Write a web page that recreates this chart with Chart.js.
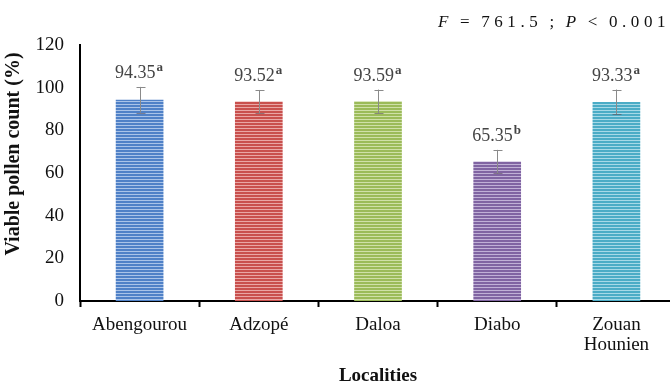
<!DOCTYPE html>
<html>
<head>
<meta charset="utf-8">
<script src="https://cdn.jsdelivr.net/npm/chart.js@4"></script>
<style>
html,body{margin:0;padding:0;background:#fff;overflow:hidden;}
#wrap{width:670px;height:385px;position:relative;overflow:hidden;}
</style>
</head>
<body>
<div id="wrap"><canvas id="c" width="676" height="385"></canvas></div>
<script>
const categories = ["Abengourou", "Adzopé", "Daloa", "Diabo", ["Zouan", "Hounien"]];
const values = [94.35, 93.52, 93.59, 65.35, 93.33];
const errors = [6.0, 5.4, 5.5, 5.5, 5.8];
const letters = ["a", "a", "a", "b", "a"];
const yTicks = [0, 20, 40, 60, 80, 100, 120];
const statText = ["F", " = 761.5 ; ", "P", " < 0.001"];
const yTitle = "Viable pollen count (%)";
const xTitle = "Localities";

const baseColors = ["#4f81c7", "#c9504d", "#9bbb59", "#8064a2", "#4bacc6"];
const stripeColors = ["#a9c3e8", "#e9a6a4", "#cfe0a8", "#c0b0d6", "#a6d9e7"];

function makePattern(base, light) {
  const c = document.createElement('canvas');
  c.width = 4; c.height = 3;
  const x = c.getContext('2d');
  x.fillStyle = base; x.fillRect(0, 0, 4, 3);
  x.fillStyle = light; x.fillRect(0, 2, 4, 1);
  return x.createPattern(c, 'repeat');
}
const patterns = baseColors.map((b, i) => makePattern(b, stripeColors[i]));

const serif = "'Liberation Serif', 'DejaVu Serif', serif";

const extras = {
  id: 'extras',
  afterDatasetsDraw(chart) {
    const ctx = chart.ctx;
    const meta = chart.getDatasetMeta(0);
    const y = chart.scales.y;
    ctx.save();
    meta.data.forEach((bar, i) => {
      const yt = y.getPixelForValue(values[i] + errors[i]);
      const yb = y.getPixelForValue(values[i] - errors[i]);
      const x = Math.round(bar.x) + 0.5;
      ctx.strokeStyle = '#8a8a8a';
      ctx.lineWidth = 1;
      ctx.beginPath();
      ctx.moveTo(x, yt); ctx.lineTo(x, yb);
      ctx.moveTo(x - 4, Math.round(yt) + 0.5); ctx.lineTo(x + 5, Math.round(yt) + 0.5);
      ctx.stroke();
      ctx.strokeStyle = 'rgba(90,80,90,0.6)';
      ctx.beginPath();
      ctx.moveTo(x - 4, Math.round(yb) + 0.5); ctx.lineTo(x + 5, Math.round(yb) + 0.5);
      ctx.stroke();
      const num = values[i].toFixed(2);
      ctx.font = "18px " + serif;
      const w1 = ctx.measureText(num).width;
      ctx.font = "bold 13px " + serif;
      const w2 = ctx.measureText(letters[i]).width;
      const start = bar.x - (w1 + w2) / 2 - 1;
      const base = yt - 9;
      ctx.fillStyle = '#444';
      ctx.textBaseline = 'alphabetic';
      ctx.textAlign = 'left';
      ctx.font = "18px " + serif;
      ctx.fillText(num, start, base);
      ctx.font = "bold 13px " + serif;
      ctx.fillText(letters[i], start + w1 + 1, base - 7);
    });
    // stats text
    ctx.fillStyle = '#111';
    let sx = 438;
    const sy = 27;
    statText.forEach((t, k) => {
      ctx.font = (k % 2 === 0 ? "italic " : "") + "17px " + serif;
      for (const ch of t) {
        ctx.fillText(ch, sx, sy);
        sx += ch === ' ' ? 7 : ctx.measureText(ch).width + 4.6;
      }
    });
    // y title
    ctx.translate(14, 154);
    ctx.rotate(-Math.PI / 2);
    ctx.textAlign = 'center';
    ctx.textBaseline = 'middle';
    ctx.font = "bold 20px " + serif;
    ctx.fillStyle = '#111';
    ctx.fillText(yTitle, 0, 0);
    ctx.restore();
  }
};

new Chart(document.getElementById('c'), {
  type: 'bar',
  data: {
    labels: categories,
    datasets: [{
      data: values,
      backgroundColor: patterns,
      borderWidth: 0,
      categoryPercentage: 1,
      barPercentage: 0.40
    }]
  },
  options: {
    responsive: false,
    animation: false,
    layout: { padding: { left: 0, right: 0, top: 45, bottom: 0 } },
    plugins: { legend: { display: false }, tooltip: { enabled: false } },
    scales: {
      y: {
        min: 0, max: 120,
        afterBuildTicks(s) { s.ticks = yTicks.map(v => ({ value: v })); },
        afterFit(s) { s.width = 80; },
        grid: { display: false, drawTicks: true, tickLength: 6, tickColor: '#000' },
        border: { color: '#000', width: 2 },
        ticks: { color: '#111', font: { family: serif, size: 19 }, padding: 10 }
      },
      x: {
        offset: true,
        afterFit(s) { s.height = 84; },
        grid: { display: true, drawOnChartArea: false, offset: true, tickLength: 6, tickColor: '#000', tickWidth: 2 },
        border: { color: '#000', width: 2 },
        ticks: { color: '#111', font: { family: serif, size: 19, lineHeight: 1.05 }, padding: 8, maxRotation: 0, autoSkip: false },
        title: { display: true, text: xTitle, color: '#111', font: { family: serif, size: 19, weight: 'bold' }, padding: { top: 4, bottom: -2 } }
      }
    }
  },
  plugins: [extras]
});
</script>
</body>
</html>
